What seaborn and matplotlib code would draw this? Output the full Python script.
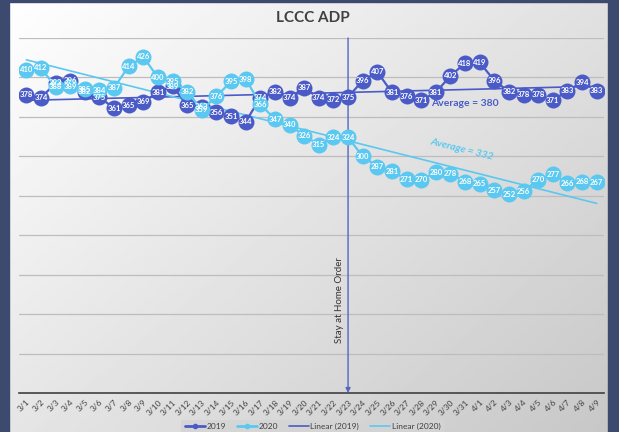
import seaborn as sns
import matplotlib.pyplot as plt
import numpy as np

# Data
dates = [f"3/{d}" for d in range(1, 32)] + [f"4/{d}" for d in range(1, 10)]
adp_2019 = [378, 374, 393, 396, 382, 375, 361, 365, 369, 381,
            389, 365, 363, 356, 351, 344, 374, 382, 374, 387,
            374, 372, 375, 396, 407, 381, 376, 371, 381, 402,
            418, 419, 396, 382, 378, 378, 371, 383, 394, 383]
adp_2020 = [410, 412, 388, 389, 385, 384, 387, 414, 426, 400,
            395, 382, 359, 376, 395, 398, 366, 347, 340, 326,
            315, 324, 324, 300, 287, 281, 271, 270, 280, 278,
            268, 265, 257, 252, 256, 270, 277, 266, 268, 267]
order_day = "3/23"

c19 = "#4A5BC8"
c20 = "#5AC8F0"

sns.set_style("white")
plt.rcParams['font.family'] = ['Lato', 'DejaVu Sans']

fig = plt.figure(figsize=(6.19, 4.32), dpi=100)

# background gradient + dark side bands
bg = fig.add_axes([0, 0, 1, 1], zorder=-10)
gx, gy = np.meshgrid(np.linspace(0, 1, 200), np.linspace(0, 1, 200))
grad = 1.0 - 0.22 * (0.55 * gx + 0.45 * gy)
bg.imshow(grad, cmap="gray", vmin=0, vmax=1, aspect="auto", extent=[0, 1, 0, 1])
bg.add_patch(plt.Rectangle((0, 0), 9 / 619, 1, color="#3B4A6E"))
bg.add_patch(plt.Rectangle((608 / 619, 0), 11 / 619, 1, color="#3B4A6E"))
bg.add_patch(plt.Rectangle((0, 1 - 2 / 432), 1, 2 / 432, color="#3B4A6E"))
bg.set_xlim(0, 1)
bg.set_ylim(0, 1)
bg.axis("off")

ax = fig.add_axes([19 / 619, 39 / 432, 585 / 619, 355 / 432])
ax.patch.set_alpha(0)
x = np.arange(len(dates))

sns.lineplot(x=x, y=adp_2019, ax=ax, color=c19, lw=1.6, marker="o",
             markersize=11.5, markeredgewidth=0, zorder=4)
sns.lineplot(x=x, y=adp_2020, ax=ax, color=c20, lw=1.6, marker="o",
             markersize=11.5, markeredgewidth=0, zorder=5)
sns.regplot(x=x, y=adp_2019, ax=ax, scatter=False, ci=None,
            line_kws=dict(color=c19, lw=1.2, zorder=3))
sns.regplot(x=x, y=adp_2020, ax=ax, scatter=False, ci=None,
            line_kws=dict(color=c20, lw=1.2, zorder=3))

for xi, v in zip(x, adp_2019):
    ax.text(xi, v, str(v), color="white", fontsize=5.5, fontweight="bold",
            ha="center", va="center", zorder=6)
for xi, v in zip(x, adp_2020):
    ax.text(xi, v, str(v), color="white", fontsize=5.5, fontweight="bold",
            ha="center", va="center", zorder=7)

# stay at home order marker
xo = dates.index(order_day)
ax.annotate("", xy=(xo, 0), xytext=(xo, 450),
            arrowprops=dict(arrowstyle="-|>", color="#5566C0", lw=1,
                            mutation_scale=7, shrinkA=0, shrinkB=0), zorder=2)
ax.text(xo - 0.3, 118, "Stay at Home Order", rotation=90, fontsize=7,
        color="#333333", ha="right", va="center")

ax.text(27.7, 367, "Average = 380", color=c19, fontsize=7.5,
        fontweight="bold", ha="left", va="center")
ax.text(29.8, 309, "Average = 332", color=c20, fontsize=7.5,
        fontweight="bold", style="italic", rotation=-14,
        ha="center", va="center")

ax.set_xlim(-0.5, len(dates) - 0.5)
ax.set_ylim(0, 450)
ax.set_yticks(np.arange(50, 451, 50))
ax.set_yticklabels([])
ax.tick_params(axis="y", length=0)
ax.grid(axis="y", color="#BDBDBD", lw=0.9)
ax.set_axisbelow(True)
ax.set_xticks(x)
ax.set_xticklabels(dates, rotation=45, ha="right", rotation_mode="anchor",
                   fontsize=6, color="#404040")
ax.tick_params(axis="x", length=0, pad=4)
for s in ["top", "right", "left"]:
    ax.spines[s].set_visible(False)
ax.spines["bottom"].set_color("#404040")
ax.spines["bottom"].set_linewidth(1.2)

fig.text(0.505, 1 - 18 / 432, "LCCC ADP", fontsize=11, fontweight="bold",
         color="#404040", ha="center", va="center")

handles = [
    plt.Line2D([], [], color=c19, lw=2, marker="o", markersize=3),
    plt.Line2D([], [], color=c20, lw=2, marker="o", markersize=3),
    plt.Line2D([], [], color=c19, lw=1.2),
    plt.Line2D([], [], color=c20, lw=1.2),
]
leg = fig.legend(handles, ["2019", "2020", "Linear (2019)", "Linear (2020)"],
                 loc="center", bbox_to_anchor=(0.505, 0.012), ncol=4,
                 fontsize=6, frameon=True, fancybox=False, handlelength=2.4,
                 handletextpad=0.2, columnspacing=1.3, borderpad=0.4)
leg.get_frame().set_facecolor("#D4D4D4")
leg.get_frame().set_edgecolor("none")
for t in leg.get_texts():
    t.set_color("#404040")

fig.savefig("out.png", dpi=100)
plt.close(fig)
